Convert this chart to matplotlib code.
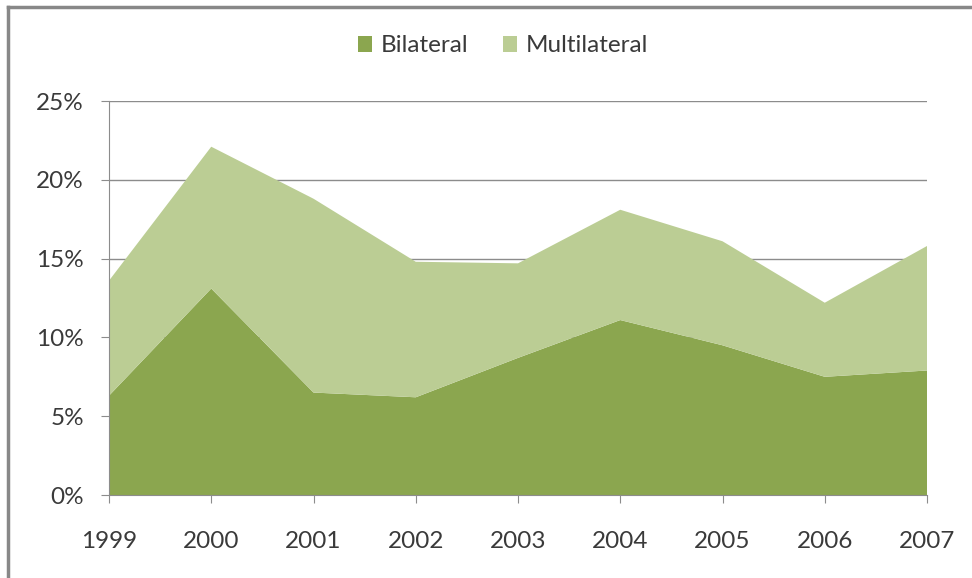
import matplotlib

matplotlib.use("Agg")
import matplotlib.pyplot as plt  # noqa: E402
from matplotlib.lines import Line2D  # noqa: E402
from matplotlib.patches import Patch  # noqa: E402
from matplotlib.ticker import PercentFormatter  # noqa: E402

years = [1999, 2000, 2001, 2002, 2003, 2004, 2005, 2006, 2007]
bilateral = [6.3, 13.1, 6.5, 6.2, 8.7, 11.1, 9.5, 7.5, 7.9]
multilateral = [7.3, 9.0, 12.3, 8.6, 6.0, 7.0, 6.6, 4.7, 7.9]
series_names = ["Bilateral", "Multilateral"]
y_ticks = [0, 5, 10, 15, 20, 25]

DARK = "#8ba64f"
LIGHT = "#bbcd94"
GRID = "#8c8c8c"
TEXT = "#3a3a3a"

plt.rcParams["font.family"] = ["Lato", "DejaVu Sans"]

fig = plt.figure(figsize=(9.72, 5.78), dpi=100)
ax = fig.add_axes([109 / 972, 83 / 578, 818 / 972, 394 / 578])

x = list(range(len(years)))
ax.stackplot(x, bilateral, multilateral, colors=[DARK, LIGHT], zorder=2)

ax.set_xlim(0, len(years) - 1)
ax.set_ylim(0, 25)
ax.set_yticks(y_ticks)
ax.yaxis.set_major_formatter(PercentFormatter(decimals=0))
ax.set_xticks(x)
ax.set_xticklabels([str(y) for y in years])

ax.grid(axis="y", color=GRID, linewidth=1, zorder=0)
ax.set_axisbelow(True)
ax.tick_params(axis="y", length=6, color=GRID, pad=12, labelsize=17.5,
               labelcolor=TEXT)
ax.tick_params(axis="x", length=6, color=GRID, pad=20, labelsize=17.5,
               labelcolor=TEXT)
for side in ("top", "right"):
    ax.spines[side].set_visible(False)
for side in ("left", "bottom"):
    ax.spines[side].set_color(GRID)

handles = [Patch(facecolor=c, edgecolor="none") for c in (DARK, LIGHT)]
fig.legend(handles, series_names, loc="center", bbox_to_anchor=(503 / 972, 1 - 46 / 578),
           ncol=2, frameon=False, fontsize=17.5, labelcolor=TEXT,
           handlelength=0.6, handleheight=0.6, handletextpad=0.35,
           columnspacing=1.4)

# outer chart border (top and left edges only)
fig.add_artist(Line2D([8 / 972, 1], [1 - 7 / 578, 1 - 7 / 578],
                      transform=fig.transFigure, color="#888888", linewidth=2.5))
fig.add_artist(Line2D([8 / 972, 8 / 972], [0, 1 - 7 / 578],
                      transform=fig.transFigure, color="#888888", linewidth=2.5))

fig.savefig("out.png", dpi=100)
